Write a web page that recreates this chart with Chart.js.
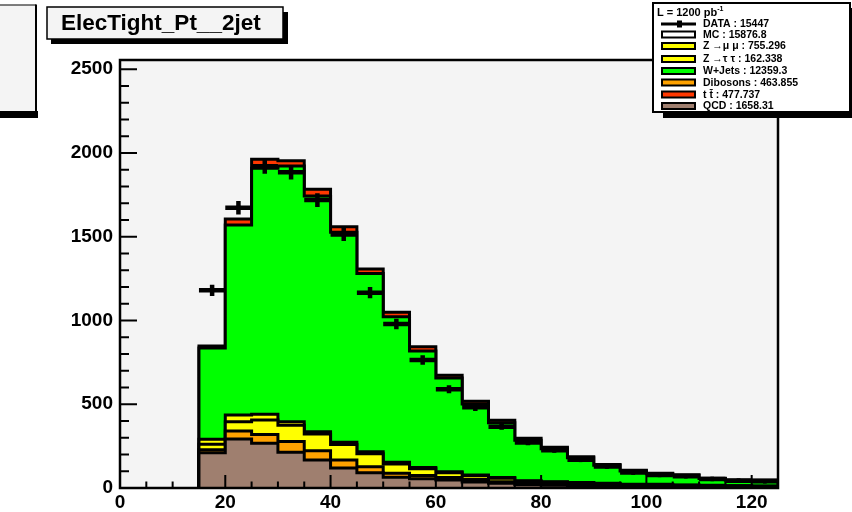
<!DOCTYPE html>
<html>
<head>
<meta charset="utf-8">
<script src="https://cdn.jsdelivr.net/npm/chart.js@4.4.1/dist/chart.umd.min.js"></script>
<style>
  html, body { margin: 0; padding: 0; background: #fff; }
  #wrap { width: 852px; height: 512px; position: relative; }
</style>
</head>
<body>
<div id="wrap"><canvas id="c" width="852" height="512"></canvas></div>
<script>
// bin edges of the Pt histogram (GeV), 5 GeV bins
const binEdges = [15, 20, 25, 30, 35, 40, 45, 50, 55, 60, 65, 70, 75, 80, 85, 90, 95, 100, 105, 110, 115, 120, 125];
const binCenters = [17.5, 22.5, 27.5, 32.5, 37.5, 42.5, 47.5, 52.5, 57.5, 62.5, 67.5, 72.5, 77.5, 82.5, 87.5, 92.5, 97.5, 102.5, 107.5, 112.5, 117.5, 122.5];

// MC components, per bin (stack order bottom -> top)
const qcd   = [211, 292, 267, 213, 167, 119, 91, 64, 55, 48, 36, 28, 20, 16, 12, 10, 8, 7, 6, 5, 4, 4];
const dibos = [18, 48, 53, 64, 56, 48, 36, 24, 20, 14, 14, 10, 8, 6, 6, 5, 4, 4, 3, 3, 3, 2];
const zmumu = [32, 56, 86, 97, 99, 92, 78, 55, 40, 29, 23, 20, 13, 13, 13, 11, 9, 10, 8, 7, 6, 5];
const ztautau = [30, 40, 34, 22, 14, 14, 12, 10, 8, 6, 5, 4, 3, 3, 2, 2, 2, 1, 1, 1, 1, 1];
const wjets = [545, 1134, 1469, 1526, 1407, 1253, 1063, 870, 695, 560, 423, 328, 241, 197, 148, 108, 79, 63, 58, 40, 32, 34];
const ttbar = [12, 36, 53, 32, 40, 34, 27, 26, 25, 16, 17, 14, 12, 8, 6, 5, 4, 3, 3, 2, 2, 2];

// data
const dataVals = [1180, 1673, 1920, 1885, 1719, 1514, 1166, 979, 764, 589, 482, 366, 271, 225, 168, 128, 92, 78, 70, 54, 44, 40];
const dataErr  = [34, 41, 44, 43, 41, 39, 34, 31, 28, 24, 22, 19, 16, 15, 13, 11, 10, 9, 8, 7, 7, 6];

const xTicks = [0, 20, 40, 60, 80, 100, 120];
const yTicks = [0, 500, 1000, 1500, 2000, 2500];

const legendRows = [
  { label: 'DATA : 15447', kind: 'data' },
  { label: 'MC : 15876.8', color: '#ffffff' },
  { label: 'Z \u2192\u03bc \u03bc : 755.296', color: '#ffff00' },
  { label: 'Z \u2192\u03c4 \u03c4 : 162.338', color: '#ffff00' },
  { label: 'W+Jets : 12359.3', color: '#00ff00' },
  { label: 'Dibosons : 463.855', color: '#ffa200' },
  { label: 't t\u0304 : 477.737', color: '#ff3800' },
  { label: 'QCD : 1658.31', color: '#9f7f6f' }
];

function cumul(...arrs) {
  return arrs[0].map((_, i) => arrs.reduce((s, a) => s + a[i], 0));
}

function stepPoints(vals) {
  const pts = [{ x: binEdges[0], y: 0 }];
  vals.forEach((v, i) => {
    pts.push({ x: binEdges[i], y: v });
    pts.push({ x: binEdges[i + 1], y: v });
  });
  pts.push({ x: binEdges[binEdges.length - 1], y: 0 });
  return pts;
}

function histSet(vals, color, order) {
  return {
    type: 'line',
    data: stepPoints(vals),
    backgroundColor: color,
    borderColor: '#000',
    borderWidth: 3,
    fill: 'origin',
    pointRadius: 0,
    tension: 0,
    order: order
  };
}

const FONT = "'Liberation Sans', Arial, Helvetica, sans-serif";

const bgPlugin = {
  id: 'bg',
  beforeDraw(chart) {
    const { ctx, chartArea: a } = chart;
    ctx.save();
    ctx.fillStyle = '#ffffff';
    ctx.fillRect(0, 0, chart.width, chart.height);
    ctx.fillStyle = '#f4f4f4';
    ctx.fillRect(a.left, a.top, a.right - a.left, a.bottom - a.top);
    ctx.restore();
  }
};

const errPlugin = {
  id: 'errbars',
  afterDatasetsDraw(chart) {
    const { ctx, scales: { x, y } } = chart;
    ctx.save();
    ctx.strokeStyle = '#000';
    ctx.lineWidth = 4.5;
    ctx.lineCap = 'butt';
    dataVals.forEach((v, i) => {
      const yp = y.getPixelForValue(v);
      ctx.beginPath();
      ctx.moveTo(x.getPixelForValue(binEdges[i]), yp);
      ctx.lineTo(x.getPixelForValue(binEdges[i + 1]), yp);
      const xc = x.getPixelForValue(binCenters[i]);
      ctx.moveTo(xc, y.getPixelForValue(v - dataErr[i]));
      ctx.lineTo(xc, y.getPixelForValue(v + dataErr[i]));
      ctx.stroke();
    });
    ctx.restore();
  }
};

const axesPlugin = {
  id: 'rootAxes',
  afterDatasetsDraw(chart) {
    const { ctx, chartArea: a, scales: { x, y } } = chart;
    ctx.save();
    ctx.strokeStyle = '#000';
    ctx.lineWidth = 2;
    ctx.beginPath();
    for (let v = 0; v <= 2555; v += 100) {
      const yp = y.getPixelForValue(v);
      const len = v % 500 === 0 ? 17 : 9;
      ctx.moveTo(a.left, yp);
      ctx.lineTo(a.left + len, yp);
    }
    for (let v = 0; v <= 125; v += 5) {
      const xp = x.getPixelForValue(v);
      const len = v % 20 === 0 ? 13 : 6.5;
      ctx.moveTo(xp, a.bottom);
      ctx.lineTo(xp, a.bottom - len);
    }
    ctx.stroke();
    ctx.lineWidth = 2.5;
    ctx.strokeRect(a.left, a.top, a.right - a.left, a.bottom - a.top);
    ctx.restore();
  }
};

const padsPlugin = {
  id: 'pads',
  afterDraw(chart) {
    const ctx = chart.ctx;
    ctx.save();
    // leftover pad on the left
    ctx.fillStyle = '#f4f4f4';
    ctx.fillRect(0, 5, 36, 106);
    ctx.fillStyle = '#000';
    ctx.fillRect(0, 4.5, 36, 1);
    ctx.fillRect(35, 4.5, 2, 107);
    ctx.fillRect(0, 111, 38, 7);

    // title box
    ctx.fillStyle = '#000';
    ctx.fillRect(283, 12, 5, 32);
    ctx.fillRect(51, 39, 237, 5);
    ctx.fillStyle = '#f4f4f4';
    ctx.fillRect(47, 7, 236, 32);
    ctx.strokeStyle = '#000';
    ctx.lineWidth = 1.5;
    ctx.strokeRect(47, 7, 236, 32);
    ctx.fillStyle = '#000';
    ctx.font = 'bold 22.5px ' + FONT;
    ctx.textBaseline = 'alphabetic';
    ctx.textAlign = 'left';
    ctx.fillText('ElecTight_Pt__2jet', 61, 30);

    // legend box
    ctx.fillStyle = '#000';
    ctx.fillRect(663, 112, 189, 6);
    ctx.fillRect(850, 8, 2, 110);
    ctx.fillStyle = '#ffffff';
    ctx.fillRect(653, 3, 197, 109);
    ctx.lineWidth = 2;
    ctx.strokeRect(653, 3, 197, 109);

    ctx.fillStyle = '#000';
    ctx.font = 'bold 11px ' + FONT;
    ctx.fillText('L = 1200 pb', 657, 16);
    const w = ctx.measureText('L = 1200 pb').width;
    ctx.font = 'bold 7px ' + FONT;
    ctx.fillText('-1', 657 + w, 11);

    const rowY = [24, 34.5, 46, 59, 71, 82.5, 94.5, 106];
    ctx.textBaseline = 'middle';
    legendRows.forEach((r, i) => {
      const yc = rowY[i];
      if (r.kind === 'data') {
        ctx.fillStyle = '#000';
        ctx.fillRect(661, yc - 1.5, 35, 3);
        ctx.fillRect(677, yc - 3.5, 5, 7);
      } else {
        ctx.fillStyle = r.color;
        ctx.fillRect(662, yc - 3, 33, 6);
        ctx.strokeStyle = '#000';
        ctx.lineWidth = 2;
        ctx.strokeRect(662, yc - 3, 33, 6);
      }
      ctx.fillStyle = '#000';
      ctx.font = 'bold 10.5px ' + FONT;
      ctx.fillText(r.label, 703, yc + 0.5);
    });
    ctx.restore();
  }
};

const cQcd = qcd;
const cDib = cumul(qcd, dibos);
const cZmm = cumul(qcd, dibos, zmumu);
const cZtt = cumul(qcd, dibos, zmumu, ztautau);
const cW   = cumul(qcd, dibos, zmumu, ztautau, wjets);
const cTt  = cumul(qcd, dibos, zmumu, ztautau, wjets, ttbar);

new Chart(document.getElementById('c'), {
  type: 'line',
  data: {
    datasets: [
      {
        type: 'scatter',
        data: binCenters.map((x, i) => ({ x, y: dataVals[i] })),
        pointStyle: 'rect',
        pointRadius: 2.5,
        backgroundColor: '#000',
        borderColor: '#000',
        order: 0
      },
      histSet(cQcd, '#9f7f6f', 1),
      histSet(cDib, '#ffa200', 2),
      histSet(cZmm, '#ffff00', 3),
      histSet(cZtt, '#ffff00', 4),
      histSet(cW, '#00ff00', 5),
      histSet(cTt, '#ff3800', 6)
    ]
  },
  options: {
    responsive: false,
    animation: false,
    devicePixelRatio: 1,
    layout: { padding: { left: 0, top: 60, right: 74, bottom: 0 } },
    plugins: { legend: { display: false }, tooltip: { enabled: false } },
    scales: {
      x: {
        type: 'linear',
        min: 0,
        max: 125,
        grid: { display: false, drawTicks: false },
        border: { display: false },
        afterBuildTicks: s => { s.ticks = xTicks.map(v => ({ value: v })); },
        afterFit: s => { s.height = 24; },
        ticks: {
          color: '#000',
          padding: 3,
          maxRotation: 0,
          autoSkip: false,
          callback: v => String(v),
          font: { family: FONT, size: 19, weight: 'bold' }
        }
      },
      y: {
        min: 0,
        max: 2555,
        grid: { display: false, drawTicks: false },
        border: { display: false },
        afterBuildTicks: s => { s.ticks = yTicks.map(v => ({ value: v })); },
        afterFit: s => { s.width = 120; },
        ticks: {
          color: '#000',
          padding: 7,
          callback: v => String(v),
          font: { family: FONT, size: 19, weight: 'bold' }
        }
      }
    }
  },
  plugins: [bgPlugin, errPlugin, axesPlugin, padsPlugin]
});
</script>
</body>
</html>
